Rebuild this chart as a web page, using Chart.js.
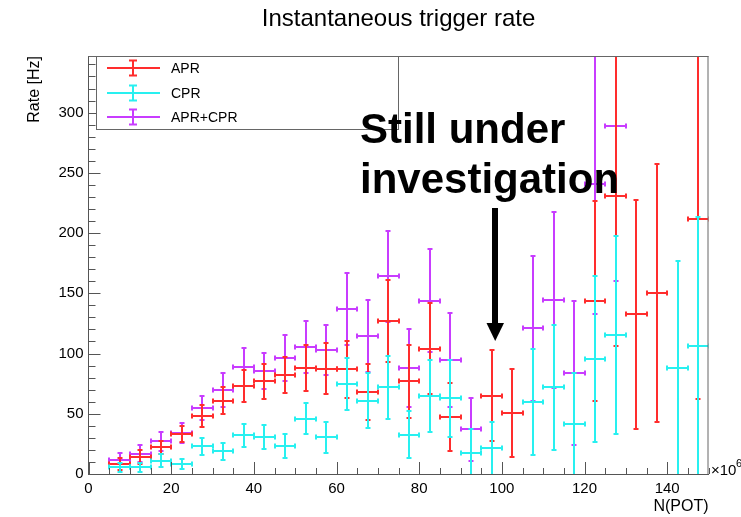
<!DOCTYPE html>
<html><head><meta charset="utf-8">
<script src="https://cdn.jsdelivr.net/npm/chart.js@4.4.0/dist/chart.umd.min.js"></script>
<style>html,body{margin:0;padding:0;background:#fff;}</style>
</head><body>
<canvas id="c" width="741" height="517"></canvas>
<script>
// ---- data ----
const binCenters = [7.5,12.5,17.5,22.5,27.5,32.5,37.5,42.5,47.5,52.5,57.5,62.5,67.5,72.5,77.5,82.5,87.5,92.5,97.5,102.5,107.5,112.5,117.5,122.5,127.5,132.5,137.5,142.5,147.5];
const binHalfWidth = 2.5;
const aprValues = [8,14,22,33,48,61,73,77,82,88,87.5,87,68,127,77,104,47.5,null,65,50.5,null,null,null,144,231,132.5,150,null,212];
const aprErrors = [5,6,5.5,6.5,9,11,13,14.5,15,19,21.5,23.5,23,34,30.5,38,28,null,38,36.5,null,null,null,83,125,95,107,null,150];
const cprValues = [5.5,5.5,11,8.5,23,19,32,31,23.5,46,30.5,75,61,72,32.5,65,63,17.5,21.5,null,60,72,41.5,95.5,115.5,null,null,88,106];
const cprErrors = [4,4,5.5,4,7,7,9.5,10,10,13,13,21.5,22.5,26,19.5,30,32,20,22,null,44,52,42,69,82,null,null,89,107];
const sumValues = [11.5,17,27,34,55,70,89,85.5,96,105.5,103,137,114.5,164,88,144,95,37,null,null,121,144.5,84,240.5,289,null,null,null,null];
const sumErrors = [6,7,8,8,10,14,16,15,19,21.5,21,30,30,38,32,43,39,26.5,null,null,60,73,60,108,129,null,null,null,null];
const xTickStep = 20, xMinorStep = 5, yTickStep = 50, yMinorStep = 10;
const xMin = 0, xMax = 150, yMin = 0, yMax = 347;
const seriesNames = ['APR','CPR','APR+CPR'];

const FONT = '"Liberation Sans", Arial, Helvetica, sans-serif';
const colApr = 'rgb(255,45,45)';
const colCpr = 'rgb(40,240,240)';
const colSum = 'rgb(200,60,255)';

function mk(label, vals, errs, color) {
  const data = [];
  binCenters.forEach((x, i) => { if (vals[i] !== null) data.push({x: x, y: vals[i], e: errs[i]}); });
  return {label, data, borderColor: color, backgroundColor: color, pointRadius: 0, showLine: false};
}

function drawErr(ctx, xl, xc, xr, yc, yt, yb, color) {
  const c = 2.5;
  ctx.strokeStyle = color; ctx.lineWidth = 2;
  ctx.beginPath();
  ctx.moveTo(xl, yc); ctx.lineTo(xr, yc);
  ctx.moveTo(xl, yc - c); ctx.lineTo(xl, yc + c);
  ctx.moveTo(xr, yc - c); ctx.lineTo(xr, yc + c);
  ctx.moveTo(xc, yt); ctx.lineTo(xc, yb);
  ctx.moveTo(xc - c, yt); ctx.lineTo(xc + c, yt);
  ctx.moveTo(xc - c, yb); ctx.lineTo(xc + c, yb);
  ctx.stroke();
}

const errorBarPlugin = {
  id: 'errorBars',
  afterDatasetsDraw(chart) {
    const ctx = chart.ctx, ca = chart.chartArea;
    const xs = chart.scales.x, ys = chart.scales.y;
    const R = Math.round;
    ctx.save();
    ctx.beginPath(); ctx.rect(ca.left, ca.top, ca.right - ca.left, ca.bottom - ca.top); ctx.clip();
    chart.data.datasets.forEach((ds, i) => {
      const meta = chart.getDatasetMeta(i);
      meta.data.forEach((el, j) => {
        const r = ds.data[j];
        drawErr(ctx, R(xs.getPixelForValue(r.x - binHalfWidth)), R(el.x), R(xs.getPixelForValue(r.x + binHalfWidth)),
                R(el.y), R(ys.getPixelForValue(r.y + r.e)), R(ys.getPixelForValue(r.y - r.e)), ds.borderColor);
      });
    });
    ctx.restore();
  }
};

const framePlugin = {
  id: 'frame',
  afterDraw(chart) {
    const ctx = chart.ctx, ca = chart.chartArea;
    const xs = chart.scales.x, ys = chart.scales.y;
    ctx.save();
    ctx.strokeStyle = '#666'; ctx.lineWidth = 1;
    ctx.beginPath();
    ctx.moveTo(ca.left, ca.top + 0.5); ctx.lineTo(ca.right, ca.top + 0.5);
    ctx.moveTo(ca.right - 0.5, ca.top); ctx.lineTo(ca.right - 0.5, ca.bottom);
    ctx.stroke();
    ctx.strokeStyle = '#555';
    ctx.beginPath();
    for (let v = xMin; v <= xMax + 1e-9; v += xMinorStep) {
      const p = Math.round(xs.getPixelForValue(v)) + 0.5;
      const len = (v % xTickStep === 0) ? 12 : 6;
      ctx.moveTo(p, ca.bottom); ctx.lineTo(p, ca.bottom - len);
    }
    for (let v = yMin; v <= yMax + 1e-9; v += yMinorStep) {
      const p = Math.round(ys.getPixelForValue(v)) + 0.5;
      const len = (v % yTickStep === 0) ? 12 : 7;
      ctx.moveTo(ca.left, p); ctx.lineTo(ca.left + len, p);
    }
    ctx.stroke();

    // legend
    const lx = 96, ly = 56, lw = 302, lh = 73;
    ctx.fillStyle = '#fff';
    ctx.fillRect(lx, ly, lw, lh);
    ctx.strokeStyle = '#666';
    ctx.strokeRect(lx + 0.5, ly + 0.5, lw, lh);
    const cols = [colApr, colCpr, colSum];
    const rows = [68, 93, 117];
    ctx.font = '14px ' + FONT; ctx.textBaseline = 'middle'; ctx.textAlign = 'left'; ctx.fillStyle = '#000';
    rows.forEach((yy, k) => {
      ctx.strokeStyle = cols[k]; ctx.lineWidth = 2;
      ctx.beginPath();
      ctx.moveTo(107, yy); ctx.lineTo(160, yy);
      ctx.moveTo(133, yy - 7.5); ctx.lineTo(133, yy + 7.5);
      ctx.moveTo(129, yy - 7.5); ctx.lineTo(137, yy - 7.5);
      ctx.moveTo(129, yy + 7.5); ctx.lineTo(137, yy + 7.5);
      ctx.stroke();
      ctx.fillText(seriesNames[k], 171, yy + 1);
    });

    // exponent label
    ctx.fillStyle = '#000';
    ctx.font = '15px ' + FONT; ctx.textBaseline = 'alphabetic';
    ctx.fillText('\u00d710', 711, 475);
    ctx.font = '11px ' + FONT;
    ctx.fillText('6', 736, 467);

    // annotation
    ctx.font = 'bold 42px ' + FONT;
    ctx.fillText('Still under', 360, 143);
    ctx.fillText('investigation', 360, 193);
    ctx.fillStyle = '#000';
    ctx.fillRect(492, 208, 6, 116);
    ctx.beginPath();
    ctx.moveTo(486.5, 323); ctx.lineTo(504, 323); ctx.lineTo(495.2, 341); ctx.closePath(); ctx.fill();
    ctx.restore();
  }
};

new Chart(document.getElementById('c'), {
  type: 'scatter',
  data: { datasets: [
    mk('APR+CPR', sumValues, sumErrors, colSum),
    mk('APR', aprValues, aprErrors, colApr),
    mk('CPR', cprValues, cprErrors, colCpr)
  ]},
  options: {
    responsive: false, animation: false, devicePixelRatio: 1,
    layout: {padding: {left: 0, top: 0, right: 32.5, bottom: 0}},
    plugins: {
      legend: {display: false}, tooltip: {enabled: false},
      title: {display: true, text: 'Instantaneous trigger rate', fullSize: false, color: '#000',
              font: {family: FONT, size: 24, weight: 'normal'}, padding: {top: 5, bottom: 22.2}}
    },
    scales: {
      x: {type: 'linear', min: xMin, max: xMax,
          grid: {display: false, drawTicks: false}, border: {display: true, color: '#555', width: 1},
          ticks: {stepSize: xTickStep, includeBounds: false, color: '#000', font: {family: FONT, size: 15}, padding: 6, maxRotation: 0, autoSkip: false,
                  callback: v => (v % xTickStep === 0 ? String(v) : '')},
          title: {display: true, text: 'N(POT)', align: 'end', color: '#000', font: {family: FONT, size: 16}, padding: {top: 0, bottom: 1}},
          afterFit: s => { s.height = 43; }},
      y: {type: 'linear', min: yMin, max: yMax,
          grid: {display: false, drawTicks: false}, border: {display: true, color: '#555', width: 1},
          ticks: {stepSize: yTickStep, includeBounds: false, color: '#000', font: {family: FONT, size: 15}, padding: 5, autoSkip: false,
                  callback: v => (v % yTickStep === 0 ? String(v) : '')},
          title: {display: true, text: 'Rate [Hz]', align: 'end', color: '#000', font: {family: FONT, size: 16}, padding: {top: 25, bottom: 0}},
          afterFit: s => { s.width = 88.5; }}
    }
  },
  plugins: [errorBarPlugin, framePlugin]
});
</script>
</body></html>
